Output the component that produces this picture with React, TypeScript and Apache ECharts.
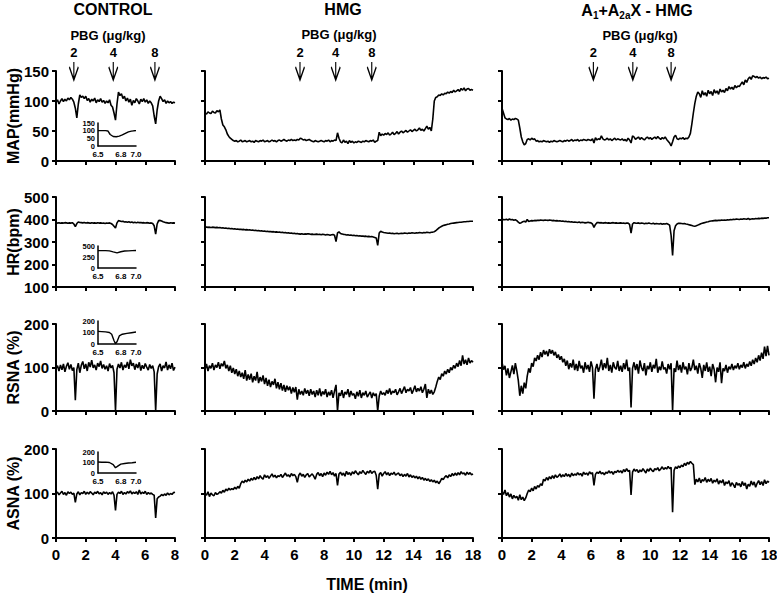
import React, { useEffect, useRef } from 'react';
import * as echarts from 'echarts';

// ---------------- DATA ----------------
const ROW_NAMES = ['MAP(mmHg)', 'HR(bpm)', 'RSNA (%)', 'ASNA (%)'];
const Y_RANGES = [
  [0, 150, 50],
  [100, 500, 100],
  [0, 200, 100],
  [0, 200, 100],
];
const X_MAX = [8, 18, 18];
const SAMPLE_STEP = 0.1; // minutes between samples
const PBG_DOSES = ['2', '4', '8'];
const PBG_TIMES = [
  [1.2, 3.85, 6.65],
  [6.38, 8.78, 11.2],
  [6.16, 8.82, 11.4],
];
const ARROW_TIP_MAP = 135;

// CONTROL (0-8 min)
const CONTROL_MAP = [
  98, 102, 95, 100, 104, 99, 103, 100, 105, 102,
  106, 103, 98, 88, 72, 95, 110, 106, 108, 104,
  108, 101, 104, 98, 103, 100, 105, 97, 102, 99,
  104, 98, 101, 96, 100, 97, 102, 93, 90, 80,
  68, 95, 115, 109, 112, 104, 108, 100, 105, 98,
  103, 93, 101, 97, 104, 100, 95, 103, 99, 104,
  98, 102, 96, 100, 97, 92, 75, 62, 85, 100,
  108, 104, 99, 102, 96, 100, 97, 99, 96, 98,
  97,
];
const CONTROL_HR = [
  385, 384, 386, 383, 385, 384, 386, 385, 383, 385,
  384, 386, 380, 368, 382, 389, 387, 386, 385, 387,
  384, 386, 385, 383, 386, 384, 385, 383, 386, 384,
  385, 383, 384, 382, 384, 383, 385, 382, 378, 370,
  362, 385, 395, 393, 391, 392, 389, 390, 388, 390,
  387, 389, 386, 388, 385, 388, 386, 387, 385, 386,
  384, 386, 385, 383, 385, 382, 372, 335, 380, 395,
  396, 393, 390, 388, 386, 385, 383, 386, 384, 385,
  384,
];
const CONTROL_RSNA = [
  98, 104, 92, 106, 95, 108, 90, 103, 111, 96,
  107, 93, 100, 25, 95, 110, 88, 105, 114, 97,
  108, 92, 112, 101, 117, 99, 106, 94, 110, 102,
  115, 98, 107, 96, 104, 92, 109, 99, 105, 88,
  0, 96, 108, 99, 112, 94, 106, 100, 113, 97,
  118, 104, 110, 95, 108, 99, 112, 93, 105, 97,
  109, 101, 94, 107, 98, 104, 90, 0, 85, 102,
  108, 92, 104, 99, 113, 94, 106, 97, 110, 93,
  101,
];
const CONTROL_ASNA = [
  100, 103, 97, 101, 105, 98, 102, 96, 104, 100,
  103, 98, 101, 80, 99, 104, 97, 102, 100, 105,
  98, 103, 99, 104, 101, 97, 103, 100, 105, 99,
  102, 97, 104, 100, 103, 98, 102, 99, 104, 96,
  62, 98, 103, 100, 105, 98, 102, 99, 104, 101,
  106, 99, 103, 100, 104, 98, 108, 99, 103, 100,
  105, 98, 102, 99, 101, 98, 96, 45, 88, 92,
  94, 98, 95, 99, 96, 101, 97, 100, 98, 102,
  103,
];

// HMG (0-18 min)
const HMG_MAP = [
  80, 78, 82, 80, 79, 83, 81, 80, 84, 82,
  85, 70, 60, 57, 52, 45, 41, 38, 36, 34,
  33, 34, 32, 33, 35, 32, 33, 34, 32, 33,
  34, 32, 33, 31, 34, 33, 32, 34, 33, 35,
  32, 33, 34, 32, 33, 35, 33, 34, 32, 34,
  35, 33, 34, 36, 34, 33, 35, 34, 36, 34,
  35, 34, 36, 35, 38, 37, 35, 36, 34, 35,
  36, 34, 33, 32, 34, 33, 32, 33, 34, 33,
  32, 34, 33, 35, 32, 34, 33, 35, 34, 47,
  38, 32, 30, 35, 31, 33, 29, 34, 31, 33,
  30, 32, 31, 33, 32, 31, 33, 32, 34, 33,
  32, 34, 33, 35, 31, 33, 34, 48, 42, 45,
  43, 46, 44, 47, 43, 45, 48, 44, 46, 49,
  45, 48, 50, 47, 49, 51, 48, 50, 52, 49,
  51, 53, 50, 52, 55, 51, 53, 50, 54, 58,
  53, 56, 50, 70, 100, 106, 107, 110, 109, 112,
  110, 113, 112, 115, 113, 116, 114, 118, 115, 117,
  119, 116, 121, 118, 122, 117, 120, 121, 118, 119,
  118,
];
const HMG_HR = [
  366, 367, 365, 366, 364, 366, 365, 364, 365, 363,
  364, 362, 363, 361, 362, 360, 361, 359, 360, 358,
  359, 357, 358, 356, 357, 355, 356, 354, 355, 353,
  354, 352, 353, 351, 352, 350, 351, 349, 350, 348,
  349, 347, 348, 346, 347, 345, 346, 344, 345, 343,
  344, 342, 343, 341, 342, 340, 341, 339, 340, 338,
  339, 337, 338, 336, 335, 337, 334, 336, 335, 337,
  336, 334, 335, 333, 334, 335, 333, 334, 332, 334,
  333, 331, 333, 332, 330, 332, 333, 330, 302, 340,
  345, 338, 336, 334, 333, 331, 332, 330, 331, 329,
  330, 328, 329, 327, 328, 326, 327, 325, 326, 324,
  325, 323, 324, 322, 320, 318, 285, 340, 348, 344,
  342, 341, 340, 339, 340, 338, 339, 337, 338, 339,
  337, 338, 339, 338, 340, 339, 338, 340, 339, 341,
  340, 339, 341, 340, 342, 341, 340, 342, 341, 343,
  342, 341, 343, 344, 346, 350, 356, 362, 366, 370,
  373, 375, 377, 379, 380, 382, 383, 384, 385, 386,
  387, 388, 388, 389, 390, 390, 391, 391, 392, 392,
  392,
];
const HMG_RSNA = [
  95, 108, 92, 104, 98, 110, 94, 106, 100, 112,
  97, 109, 103, 115, 98, 106, 92, 104, 88, 99,
  85, 96, 80, 92, 78, 88, 74, 94, 70, 84,
  72, 86, 66, 80, 70, 90, 64, 78, 68, 82,
  62, 76, 58, 72, 55, 68, 60, 74, 52, 66,
  50, 64, 47, 60, 44, 58, 48, 56, 40, 54,
  43, 55, 26, 50, 38, 46, 36, 52, 40, 48,
  35, 50, 38, 46, 32, 48, 36, 52, 34, 45,
  38, 50, 32, 44, 36, 48, 30, 46, 60, 0,
  42, 35, 48, 30, 44, 38, 50, 32, 46, 36,
  40, 28, 44, 34, 48, 30, 42, 36, 46, 32,
  38, 44, 30, 42, 35, 40, 0, 34, 46, 38,
  42, 36, 48, 40, 52, 38, 46, 42, 50, 37,
  44, 52, 40, 48, 56, 42, 50, 46, 54, 40,
  48, 58, 44, 52, 46, 56, 42, 50, 62, 30,
  50, 40, 48, 38, 44, 55, 68, 78, 72, 86,
  80, 92, 85, 96, 88, 100, 94, 105, 98, 110,
  102, 116, 104, 128, 108, 118, 106, 122, 110, 116,
  112,
];
const HMG_ASNA = [
  100, 96, 104, 93, 101, 97, 95, 102, 98, 100,
  104, 101, 107, 103, 110, 106, 112, 108, 111, 109,
  114, 110, 116, 112, 122, 128, 124, 130, 126, 132,
  128, 134, 130, 136, 131, 138, 133, 140, 135, 132,
  142, 136, 140, 134, 139, 144, 137, 141, 135, 140,
  138, 143, 136, 141, 146, 139, 142, 137, 145, 140,
  143, 138, 125, 141, 146, 139, 143, 136, 142, 145,
  137, 141, 144, 139, 132, 143, 147, 140, 145, 138,
  146, 141, 148, 143, 150, 142, 147, 139, 145, 118,
  144, 148, 141, 146, 139, 150, 143, 147, 141, 149,
  144, 151, 146, 142, 149, 145, 152, 147, 143, 150,
  146, 152, 145, 149, 150, 141, 110, 143, 147, 139,
  145, 149, 142, 147, 140, 146, 143, 148, 141, 144,
  146, 140, 144, 138, 143, 139, 145, 137, 142, 136,
  140, 135, 139, 133, 138, 132, 136, 130, 134, 129,
  133, 127, 131, 126, 130, 124, 128, 122, 127, 134,
  131, 137, 140, 135, 142, 138, 145, 140, 146, 141,
  147, 142, 149, 144, 146, 141, 148, 143, 147, 142,
  144,
];

// A1+A2aX - HMG (0-18 min)
const A1_MAP = [
  88, 80, 72, 70, 69, 71, 68, 70, 69, 71,
  70, 68, 55, 40, 32, 27, 29, 36, 37, 35,
  38, 36, 37, 33, 34, 32, 33, 32, 34, 33,
  32, 33, 31, 33, 32, 34, 33, 32, 33, 34,
  33, 32, 34, 33, 35, 33, 34, 36, 33, 35,
  34, 36, 33, 35, 34, 36, 35, 34, 36, 35,
  34, 37, 30, 39, 35, 37, 36, 42, 37, 35,
  36, 38, 35, 37, 34, 36, 38, 35, 37, 36,
  35, 37, 34, 36, 33, 38, 35, 30, 42, 40,
  36, 38, 40, 36, 39, 37, 35, 38, 40, 37,
  39, 36, 38, 40, 37, 41, 38, 36, 39, 37,
  40, 36, 33, 30, 25, 32, 40, 43, 37, 36,
  38, 37, 39, 36, 38, 37, 40, 46, 62, 80,
  96, 108, 115, 112, 106, 117, 110, 114, 108, 118,
  112, 116, 109, 119, 113, 117, 111, 120, 115, 118,
  114, 121, 117, 124, 120, 123, 119, 126, 122, 125,
  124, 128, 132, 127, 135, 131, 137, 140, 136, 142,
  141, 139, 141, 138, 140, 137, 139, 138, 140, 137,
  138,
];
const A1_HR = [
  398, 400, 399, 401, 398, 402, 399, 400, 397, 399,
  395, 388, 383, 386, 390, 392, 389, 400, 391, 393,
  395, 394, 396, 395, 397, 396, 398, 397, 396, 398,
  397, 396, 398, 397, 395, 396, 394, 395, 393, 394,
  392, 393, 391, 392, 390, 391, 389, 390, 388, 389,
  388, 387, 389, 386, 388, 387, 385, 386, 388, 386,
  385, 380, 365, 378, 386, 387, 385, 386, 384, 385,
  386, 384, 385, 383, 385, 386, 384, 385, 383, 384,
  385, 383, 384, 382, 384, 384, 378, 340, 380, 386,
  384, 383, 385, 382, 384, 383, 381, 383, 382, 384,
  382, 381, 383, 380, 382, 381, 380, 382, 379, 381,
  380, 382, 379, 375, 330, 240, 350, 372, 380, 383,
  383, 382, 381, 382, 380, 379, 377, 375, 373, 371,
  370, 372, 375, 378, 381, 383, 385, 387, 389, 390,
  392, 393, 394, 395, 396, 395, 397, 396, 398, 397,
  398, 397, 399, 398, 400, 399, 401, 400, 402, 401,
  400, 402, 401, 403, 402, 401, 405, 400, 402, 403,
  402, 404, 403, 405, 404, 406, 405, 407, 406, 408,
  408,
];
const A1_RSNA = [
  112, 95, 104, 82, 98, 76, 90, 105, 85, 110,
  92, 70, 35, 58, 40, 65, 52, 80, 98, 88,
  110, 102, 122, 115, 128, 118, 135, 124, 140, 130,
  138, 126, 142, 132, 140, 128, 136, 122, 130, 118,
  126, 112, 120, 104, 116, 96, 110, 100, 118, 94,
  108, 92, 115, 98, 104, 88, 112, 96, 106, 90,
  114, 100, 28, 96, 108, 90, 102, 118, 94, 110,
  98, 122, 92, 106, 88, 112, 100, 96, 115, 92,
  104, 90, 110, 96, 118, 92, 100, 8, 98, 112,
  94, 108, 86, 116, 100, 92, 110, 82, 104, 96,
  112, 90, 106, 98, 120, 88, 102, 94, 114, 96,
  100, 86, 108, 96, 110, 0, 98, 90, 116, 94,
  106, 88, 112, 96, 102, 84, 110, 92, 100, 118,
  94, 104, 86, 110, 98, 76, 106, 92, 112, 90,
  102, 80, 108, 96, 66, 100, 90, 112, 64, 98,
  92, 106, 88, 102, 96, 108, 94, 104, 98, 110,
  96, 106, 100, 112, 98, 108, 102, 114, 104, 118,
  108, 122, 112, 128, 116, 134, 120, 148, 126, 150,
  128,
];
const A1_ASNA = [
  104, 98, 108, 95, 102, 92, 99, 88, 96, 90,
  94, 85, 97, 86, 92, 84, 90, 100, 108, 104,
  112, 106, 116, 110, 118, 114, 122, 118, 132, 128,
  136, 130, 138, 133, 140, 134, 142, 136, 139, 144,
  137, 142, 138, 145, 139, 143, 137, 146, 140, 144,
  141, 147, 142, 145, 139, 148, 143, 146, 141, 149,
  144, 147, 118, 143, 148, 145, 150, 144, 147, 142,
  148, 145, 151, 146, 149, 143, 150, 147, 152, 148,
  151, 146, 154, 149, 156, 150, 152, 97, 148, 155,
  150, 154, 147, 153, 149, 156, 151, 146, 155, 150,
  157, 152, 149, 156, 153, 158, 151, 155, 160, 154,
  158, 155, 161, 156, 159, 58, 152, 160, 156, 162,
  158, 164, 160, 168, 163, 170, 166, 172, 168, 165,
  120, 132, 126, 135, 124, 131, 128, 136, 125, 132,
  127, 134, 123, 130, 126, 133, 121, 129, 124, 131,
  118, 126, 122, 129, 116, 124, 120, 113, 125, 119,
  122, 115, 127, 118, 124, 110, 121, 116, 128, 119,
  126, 114, 123, 129, 120, 127, 118, 131, 122, 128,
  125,
];

// Insets (CONTROL, 6.5-7.0 min zoom)
const INSET_X_LABELS = ['6.5', '6.8', '7.0'];
const INSET_Y_TICKS = [
  [0, 50, 100, 150],
  [0, 250, 500],
  [0, 100, 200],
  [0, 100, 200],
];
const INSET_MAP = [
  [6.5, 100], [6.55, 100], [6.6, 100], [6.63, 98], [6.66, 75], [6.7, 62], [6.74, 60],
  [6.78, 64], [6.82, 72], [6.86, 82], [6.9, 92], [6.94, 97], [6.97, 99], [7.0, 100],
];
const INSET_HR = [
  [6.5, 395], [6.6, 395], [6.65, 390], [6.7, 365], [6.75, 345], [6.8, 370],
  [6.85, 385], [6.9, 390], [6.95, 395], [7.0, 398],
];
const INSET_RSNA = [
  [6.5, 110], [6.55, 108], [6.6, 105], [6.65, 100], [6.68, 85], [6.71, 30], [6.73, 3],
  [6.75, 20], [6.78, 70], [6.82, 85], [6.88, 92], [6.94, 98], [7.0, 104],
];
const INSET_ASNA = [
  [6.5, 105], [6.55, 103], [6.6, 104], [6.65, 100], [6.7, 80], [6.73, 50], [6.76, 65],
  [6.8, 85], [6.85, 90], [6.9, 95], [6.95, 98], [7.0, 102],
];

const TRACES = [
  [CONTROL_MAP, CONTROL_HR, CONTROL_RSNA, CONTROL_ASNA],
  [HMG_MAP, HMG_HR, HMG_RSNA, HMG_ASNA],
  [A1_MAP, A1_HR, A1_RSNA, A1_ASNA],
];
const INSETS = [INSET_MAP, INSET_HR, INSET_RSNA, INSET_ASNA];

// ---------------- LAYOUT ----------------
const COL_LEFT = [56, 205, 502];
const COL_WIDTH = [119, 268, 267];
const ROW_TOP = [71, 197, 324, 449];
const ROW_HEIGHT = [90, 90, 87, 89];
const INSET_LEFT = 98;
const INSET_WIDTH = 38;
const INSET_TOP = [123, 246, 321, 452];
const INSET_HEIGHT = [23, 22, 23, 21];
const FONT = '"Liberation Sans", Arial, sans-serif';
const BLACK = '#000';
const N_MAIN = 12;

const toPairs = (vals: number[]) => vals.map((v, i) => [Math.round(i * SAMPLE_STEP * 10) / 10, v]);

function buildOption() {
  const grid: any[] = [];
  const xAxis: any[] = [];
  const yAxis: any[] = [];
  const series: any[] = [];
  let gi = 0;
  for (let c = 0; c < 3; c++) {
    for (let r = 0; r < 4; r++) {
      grid.push({
        left: COL_LEFT[c], top: ROW_TOP[r], width: COL_WIDTH[c], height: ROW_HEIGHT[r],
        outerBoundsMode: 'none', containLabel: false,
      });
      xAxis.push({
        gridIndex: gi, type: 'value', min: 0, max: X_MAX[c], interval: 2,
        axisLine: { show: true, onZero: false, lineStyle: { color: BLACK, width: 2 } },
        axisTick: { show: true, length: 4, lineStyle: { color: BLACK, width: 2 } },
        axisLabel: {
          show: r === 3, color: BLACK, fontSize: 15, fontWeight: 'bold', fontFamily: FONT, margin: 9,
        },
        splitLine: { show: false },
      });
      yAxis.push({
        gridIndex: gi, type: 'value', min: Y_RANGES[r][0], max: Y_RANGES[r][1], interval: Y_RANGES[r][2],
        axisLine: { show: true, onZero: false, lineStyle: { color: BLACK, width: 2 } },
        axisTick: { show: true, length: 4, lineStyle: { color: BLACK, width: 2 } },
        axisLabel: {
          show: c === 0, color: BLACK, fontSize: 15, fontWeight: 'bold', fontFamily: FONT, margin: 7,
        },
        splitLine: { show: false },
        name: c === 0 ? ROW_NAMES[r] : '',
        nameLocation: 'middle',
        nameGap: 35,
        nameMoveOverlap: false,
        nameTextStyle: { color: BLACK, fontSize: 16, fontWeight: 'bold', fontFamily: FONT },
      });
      const s: any = {
        type: 'line', xAxisIndex: gi, yAxisIndex: gi, data: toPairs(TRACES[c][r]),
        showSymbol: false, symbol: 'none',
        lineStyle: { color: BLACK, width: 1.6 }, silent: true, z: 3,
      };
      if (r === 0) {
        s.markPoint = {
          silent: true,
          symbol: 'path://M5,0 L5,18 M1,5 L5,18 L9,5',
          symbolSize: [9, 18],
          symbolOffset: [0, '-50%'],
          itemStyle: { color: 'rgba(0,0,0,0)', borderColor: BLACK, borderWidth: 1.6 },
          label: {
            show: true, position: 'top', distance: 2, formatter: '{b}',
            color: BLACK, fontSize: 13, fontWeight: 'bold', fontFamily: FONT,
          },
          data: PBG_TIMES[c].map((t, i) => ({ name: PBG_DOSES[i], coord: [t, ARROW_TIP_MAP] })),
        };
      }
      series.push(s);
      gi++;
    }
  }
  for (let r = 0; r < 4; r++) {
    const ticks = INSET_Y_TICKS[r];
    grid.push({
      left: INSET_LEFT, top: INSET_TOP[r], width: INSET_WIDTH, height: INSET_HEIGHT[r],
      outerBoundsMode: 'none', containLabel: false,
    });
    xAxis.push({
      gridIndex: gi, type: 'value', min: 6.5, max: 7.0, interval: 0.1,
      axisLine: { show: true, onZero: false, lineStyle: { color: BLACK, width: 1.5 } },
      axisTick: { show: false },
      axisLabel: {
        show: true, color: BLACK, fontSize: 8, fontWeight: 'bold', fontFamily: FONT, margin: 4,
        showMinLabel: true, showMaxLabel: true,
        formatter: (v: number) => (INSET_X_LABELS.includes(v.toFixed(1)) ? v.toFixed(1) : ''),
      },
      splitLine: { show: false },
    });
    yAxis.push({
      gridIndex: gi, type: 'value', min: ticks[0], max: ticks[ticks.length - 1],
      interval: ticks[1] - ticks[0],
      axisLine: { show: true, onZero: false, lineStyle: { color: BLACK, width: 1.5 } },
      axisTick: { show: false },
      axisLabel: { show: false },
      splitLine: { show: false },
    });
    series.push({
      type: 'line', xAxisIndex: gi, yAxisIndex: gi, data: INSETS[r],
      showSymbol: false, symbol: 'none', lineStyle: { color: BLACK, width: 1.4 }, silent: true,
    });
    gi++;
  }

  const titleFont = `bold 16px ${FONT}`;
  const pbgFont = `bold 13px ${FONT}`;
  const graphic: any[] = [
    { type: 'text', x: 113, y: 9, style: { text: 'CONTROL', font: titleFont, fill: BLACK, align: 'center', verticalAlign: 'middle' } },
    { type: 'text', x: 343, y: 9, style: { text: 'HMG', font: titleFont, fill: BLACK, align: 'center', verticalAlign: 'middle' } },
    {
      type: 'text', x: 637, y: 10,
      style: {
        text: '{n|A}{s|1}{n|+A}{s|2a}{n|X - HMG}', fill: BLACK, align: 'center', verticalAlign: 'middle',
        rich: {
          n: { font: titleFont, fill: BLACK, lineHeight: 20 },
          s: { font: `bold 10px ${FONT}`, fill: BLACK, lineHeight: 20, verticalAlign: 'bottom' },
        },
      },
    },
    { type: 'text', x: 108, y: 35, style: { text: 'PBG (\u03bcg/kg)', font: pbgFont, fill: BLACK, align: 'center', verticalAlign: 'middle' } },
    { type: 'text', x: 339, y: 34, style: { text: 'PBG (\u03bcg/kg)', font: pbgFont, fill: BLACK, align: 'center', verticalAlign: 'middle' } },
    { type: 'text', x: 640, y: 35, style: { text: 'PBG (\u03bcg/kg)', font: pbgFont, fill: BLACK, align: 'center', verticalAlign: 'middle' } },
    { type: 'text', x: 367, y: 584, style: { text: 'TIME (min)', font: titleFont, fill: BLACK, align: 'center', verticalAlign: 'middle' } },
  ];

  return {
    animation: false,
    backgroundColor: '#fff',
    grid, xAxis, yAxis, series, graphic,
  };
}

// Inset y tick labels placed through the inset axes' own scales
function insetLabelGraphics(chart: echarts.ECharts) {
  const out: any[] = [];
  for (let r = 0; r < 4; r++) {
    for (const v of INSET_Y_TICKS[r]) {
      const p = chart.convertToPixel({ gridIndex: N_MAIN + r } as any, [6.5, v]) as number[];
      if (!p) continue;
      out.push({
        type: 'text', x: p[0] - 3, y: p[1],
        style: {
          text: String(v), font: `bold 7.5px ${FONT}`, fill: BLACK, align: 'right', verticalAlign: 'middle',
        },
      });
    }
  }
  return out;
}

export default function App() {
  const ref = useRef<HTMLDivElement>(null);
  useEffect(() => {
    if (!ref.current) return;
    const chart = echarts.init(ref.current, null, { renderer: 'svg' });
    const option: any = buildOption();
    chart.setOption(option);
    chart.setOption({ graphic: [...option.graphic, ...insetLabelGraphics(chart)] });
    return () => chart.dispose();
  }, []);
  return (
    <div
      ref={ref}
      style={{ position: 'absolute', left: 0, top: 0, width: 777, height: 594, background: '#fff' }}
    />
  );
}
